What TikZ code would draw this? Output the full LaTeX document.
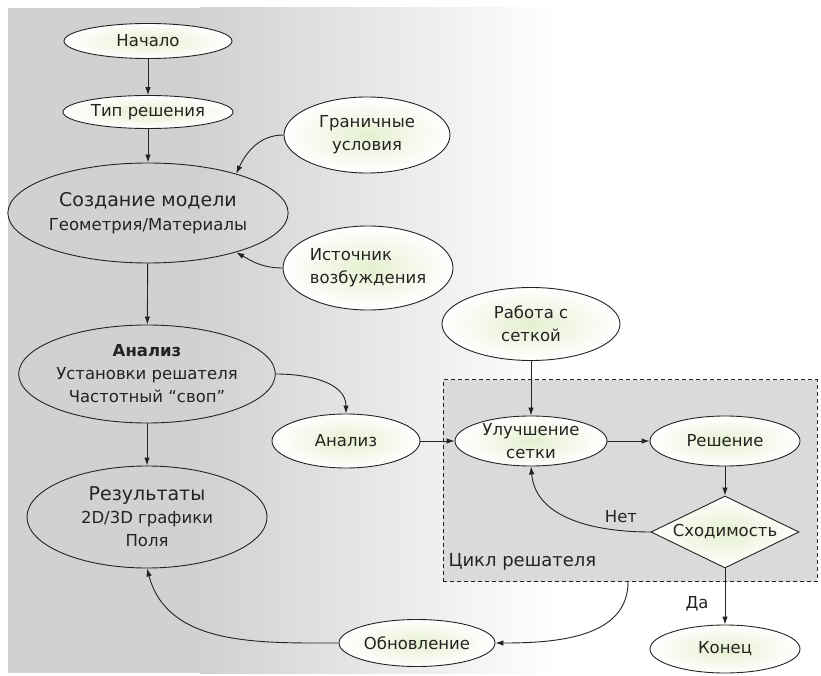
\documentclass[tikz,border=0pt]{standalone}
\usepackage{fontspec}
\setmainfont{DejaVu Sans}
\usetikzlibrary{arrows.meta,shapes.geometric}
\definecolor{bggray}{RGB}{208,209,209}
\definecolor{boxgray}{RGB}{218,218,218}
\definecolor{edge}{RGB}{35,35,35}
\definecolor{glow}{RGB}{230,239,208}
\definecolor{txt}{RGB}{35,35,35}
\begin{document}
\begin{tikzpicture}[x=1pt,y=1pt,
  every node/.style={font=\fontsize{16.5}{23}\selectfont, text=txt},
  ell/.style={ellipse, draw=edge, line width=0.9pt, inner sep=0pt, align=center},
  glowell/.style={ell, shade, shading=radial, inner color=glow, outer color=white},
  arr/.style={-{Latex[length=8pt,width=5.5pt]}, line width=0.9pt, draw=edge}]
% background
\fill[white] (0,0) rectangle (821,675);
\fill[bggray] (8,2) rectangle (200,667);
\shade[left color=bggray, right color=white] (200,2) rectangle (560,667);
\useasboundingbox (0,0) rectangle (821,675);
% solver loop box
\node[draw=edge, dash pattern=on 4pt off 3pt, line width=0.9pt, fill=boxgray,
      minimum width=374, minimum height=202, inner sep=0pt, anchor=south west] (box) at (443,93) {};
\node[anchor=west, font=\fontsize{18}{20}\selectfont] (cyc) at (445,113) {Цикл решателя};
% nodes
\node[glowell, minimum width=168, minimum height=35] (nach) at (148,634) {Начало};
\node[glowell, minimum width=170, minimum height=33] (tip) at (148,563) {Тип решения};
\node[ell, minimum width=254, minimum height=100] (sozd) at (148,462)
  {{\fontsize{19}{25}\selectfont Создание модели}\\[1pt]Геометрия/Материалы};
\node[glowell, minimum width=166, minimum height=76] (gran) at (367,540) {Граничные\\условия};
\node[glowell, minimum width=170, minimum height=84, align=left] (ist) at (368,407) {Источник\\возбуждения};
\node[ell, minimum width=240, minimum height=98] (anl) at (147,301)
  {{\bfseries Анализ}\\Установки решателя\\Частотный “своп”};
\node[ell, minimum width=240, minimum height=102] (res) at (147,158)
  {{\fontsize{19}{24}\selectfont Результаты}\\2D/3D графики\\Поля};
\node[glowell, minimum width=178, minimum height=73] (rab) at (531,351) {Работа с\\сеткой};
\node[glowell, minimum width=148, minimum height=54] (anl2) at (346,234) {Анализ};
\node[glowell, minimum width=152, minimum height=50] (ulu) at (531,234) {Улучшение\\сетки};
\node[glowell, minimum width=150, minimum height=50] (resh) at (725,234) {Решение};
\node[diamond, shape aspect=2, draw=edge, line width=0.9pt, inner sep=0pt, shade, shading=radial,
      inner color=glow, outer color=white, minimum width=148, minimum height=72] (shod) at (725,143) {Сходимость};
\node[glowell, minimum width=150, minimum height=48] (kon) at (725,26) {Конец};
\node[glowell, minimum width=156, minimum height=47] (obn) at (417,32) {Обновление};
\node (net) at (621,158) {Нет};
\node (da) at (697,71) {Да};
\coordinate (bx) at (628,93);
% connectors
\draw[arr] (nach) -- (tip);
\draw[arr] (tip) -- (sozd);
\draw[arr] (sozd) -- (anl);
\draw[arr] (anl) -- (res);
\draw[arr] (gran.west) to[out=180,in=65] (sozd.24);
\draw[arr] (ist.west) to[out=180,in=-30] (sozd.-24);
\draw[arr] (anl.east) to[out=0,in=90] (anl2.north);
\draw[arr] (anl2) -- (ulu);
\draw[arr] (rab) -- (ulu);
\draw[arr] (ulu) -- (resh);
\draw[arr] (resh) -- (shod);
\draw[arr] (shod) -- (kon);
\draw[arr] (shod.west) to[out=180,in=-85] (ulu.south);
\draw[arr] (bx) to[out=-90,in=0] (obn.east);
\draw[arr] (obn.west) to[out=180,in=-75] (res.south);
\end{tikzpicture}
\end{document}
